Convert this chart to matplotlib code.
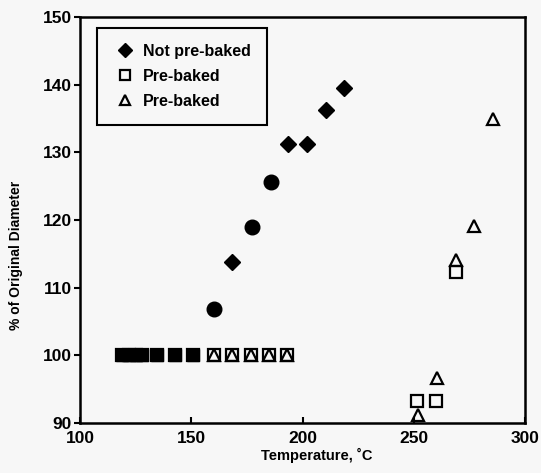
import matplotlib
matplotlib.use("Agg")
import matplotlib.pyplot as plt
from matplotlib.lines import Line2D

# Not pre-baked (filled markers)
np_x = [119, 122, 125, 128, 134.7, 142.7, 150.9, 160.2, 168.3, 177.3, 185.8, 193.5, 202.0, 210.6, 218.7]
np_y = [100, 100, 100, 100, 100, 100, 100, 106.9, 113.8, 119.0, 125.6, 131.2, 131.2, 136.3, 139.5]
np_marker = ['s', 's', 's', 's', 's', 's', 's', 'o', 'D', 'o', 'o', 'D', 'D', 'D', 'D']

# Pre-baked (squares)
sq_x = [119, 122, 125, 128, 134.7, 142.7, 150.9, 160.2, 168.4, 176.7, 185.1, 193.2, 251.3, 260.0, 268.8]
sq_y = [100, 100, 100, 100, 100, 100, 100, 100, 100, 100, 100, 100, 93.2, 93.2, 112.3]

# Pre-baked (triangles)
tr_x = [160.2, 168.4, 176.7, 185.1, 193.2, 252.0, 260.3, 268.8, 277.1, 285.8]
tr_y = [100, 100, 100, 100, 100, 91.2, 96.6, 114.1, 119.1, 135.0]

legend_labels = ["Not pre-baked", "Pre-baked", "Pre-baked"]
x_ticks = [100, 150, 200, 250, 300]
y_ticks = [90, 100, 110, 120, 130, 140, 150]

FONT = ['Liberation Sans', 'DejaVu Sans']
plt.rcParams['font.family'] = FONT

bg = '#f7f7f7'
fig = plt.figure(figsize=(5.41, 4.73), dpi=100, facecolor=bg)
ax = fig.add_axes([0.1479, 0.1057, 0.8225, 0.8583], facecolor=bg)

ax.plot(sq_x, sq_y, linestyle='none', marker='s', ms=9, mfc='none', mec='black', mew=1.6)
ax.plot(tr_x, tr_y, linestyle='none', marker='^', ms=8, mfc='none', mec='black', mew=1.6)
for m in ['s', 'o', 'D']:
    xs = [x for x, mk in zip(np_x, np_marker) if mk == m]
    ys = [y for y, mk in zip(np_y, np_marker) if mk == m]
    size = {'s': 9, 'o': 10.5, 'D': 8}[m]
    ax.plot(xs, ys, linestyle='none', marker=m, ms=size, mfc='black', mec='black', mew=1)

ax.set_xlim(100, 300)
ax.set_ylim(90, 150)
ax.set_xticks(x_ticks)
ax.set_yticks(y_ticks)
ax.tick_params(axis='x', direction='in', length=4, width=1.5, labelsize=12.5, pad=6)
ax.tick_params(axis='y', direction='out', length=4, width=1.5, labelsize=12.5, pad=2)
for lab in ax.get_xticklabels() + ax.get_yticklabels():
    lab.set_fontweight('bold')
for s in ax.spines.values():
    s.set_linewidth(1.8)

ax.set_xlabel("Temperature, ˚C", fontsize=10.5, fontweight='bold')
ax.xaxis.set_label_coords(0.533, -0.062)
ax.set_ylabel("% of Original Diameter", fontsize=10, fontweight='bold')
ax.yaxis.set_label_coords(-0.128, 0.414)

handles = [
    Line2D([], [], linestyle='none', marker='D', ms=7, mfc='black', mec='black'),
    Line2D([], [], linestyle='none', marker='s', ms=7, mfc='none', mec='black', mew=1.6),
    Line2D([], [], linestyle='none', marker='^', ms=7, mfc='none', mec='black', mew=1.6),
]
leg = ax.legend(handles, legend_labels, loc='upper left', bbox_to_anchor=(0.038, 0.973),
                borderaxespad=0, frameon=True, fancybox=False, edgecolor='black',
                prop={'family': FONT, 'weight': 'bold', 'size': 11.5},
                handletextpad=0.4, labelspacing=0.62, borderpad=1.0, handlelength=1.5)
leg.get_frame().set_linewidth(1.5)
leg.get_frame().set_facecolor(bg)
leg.get_frame().set_alpha(1)

fig.savefig("out.png", dpi=100, facecolor=bg)
